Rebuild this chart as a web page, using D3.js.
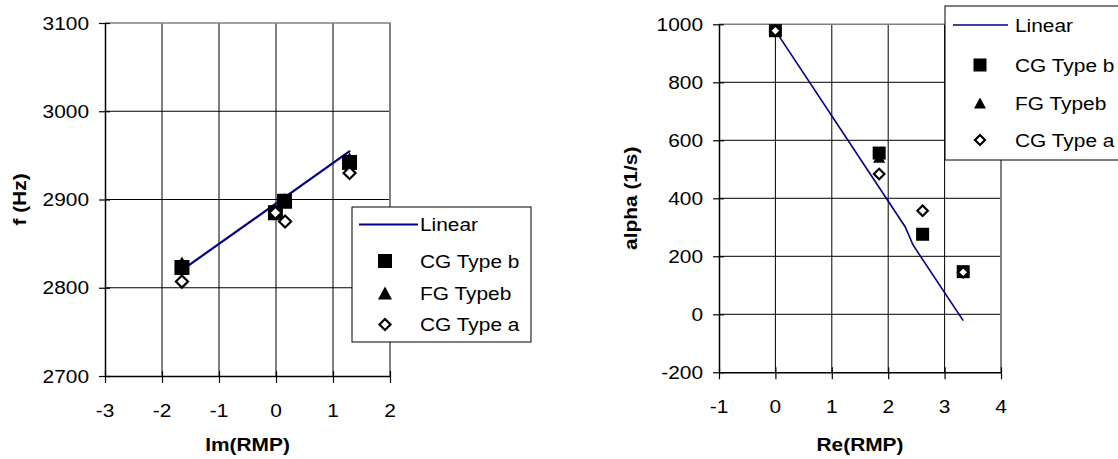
<!DOCTYPE html>
<html>
<head>
<meta charset="utf-8">
<script src="https://cdn.jsdelivr.net/npm/d3@7"></script>
<style>
  body { margin: 0; background: #fff; }
  svg { display: block; }
</style>
</head>
<body>
<svg id="chart" width="1118" height="459"></svg>
<script>
// ---- Left panel: frequency vs Im(RMP) ----
const imCGb = [-1.65, -0.01, 0.15, 1.29];
const fCGb  = [2823, 2885, 2898, 2942];
const imFGb = [-1.65, 0.15, 1.29];
const fFGb  = [2828, 2900, 2946];
const imCGa = [-1.65, -0.01, 0.16, 1.29];
const fCGa  = [2807, 2885, 2875, 2930];
const imLinear = [-1.65, 1.3];
const fLinear  = [2820, 2955];
const imTicks = [-3, -2, -1, 0, 1, 2];
const fTicks  = [2700, 2800, 2900, 3000, 3100];

// ---- Right panel: damping vs Re(RMP) ----
const reCGb = [0, 1.84, 2.61, 3.33];
const alphaCGb = [978, 556, 276, 147];
const reFGb = [0, 1.84, 2.61, 3.33];
const alphaFGb = [978, 542, 276, 147];
const reCGa = [0, 1.84, 2.61, 3.33];
const alphaCGa = [978, 484, 357, 145];
const reLinear = [0, 2.3, 2.44, 3.33];
const alphaLinear = [978, 302, 239, -22];
const reTicks = [-1, 0, 1, 2, 3, 4];
const alphaTicks = [-200, 0, 200, 400, 600, 800, 1000];

const legendLabels = ["Linear", "CG Type b", "FG Typeb", "CG Type a"];

const FONT = "'Liberation Sans', Arial, Helvetica, sans-serif";
const FS = 18.5;      // font size
const SX = 1.13;      // horizontal stretch of the lettering
const NAVY = "#000080";
const GRAY = "#808080";

const svg = d3.select("#chart");

function text(g, x, y, str, o = {}) {
  const rot = o.rotate ? ` rotate(${o.rotate})` : "";
  return g.append("text")
    .attr("transform", `translate(${x},${y})${rot} scale(${SX},1)`)
    .attr("text-anchor", o.anchor || "start")
    .attr("dominant-baseline", "central")
    .attr("font-family", FONT)
    .attr("font-size", o.size || FS)
    .attr("font-weight", o.bold ? "bold" : "normal")
    .attr("fill", "#000")
    .text(str);
}

// marker shapes centred on (cx,cy)
function marker(g, kind, cx, cy, s) {
  if (kind === "square") {
    g.append("rect").attr("x", cx - s / 2).attr("y", cy - s / 2)
      .attr("width", s).attr("height", s).attr("fill", "#000");
  } else if (kind === "triangle") {
    const h = s * 0.92;
    g.append("path")
      .attr("d", `M${cx},${cy - h / 2}L${cx + s / 2},${cy + h / 2}L${cx - s / 2},${cy + h / 2}Z`)
      .attr("fill", "#000");
  } else {
    const r = s / 2 - 1;
    g.append("path")
      .attr("d", `M${cx},${cy - r}L${cx + r},${cy}L${cx},${cy + r}L${cx - r},${cy}Z`)
      .attr("fill", "#fff").attr("stroke", "#000").attr("stroke-width", 2.2);
  }
}

function panel(cfg) {
  const g = svg.append("g");
  const x = d3.scaleLinear().domain(cfg.xDomain).range([cfg.left, cfg.right]);
  const y = d3.scaleLinear().domain(cfg.yDomain).range([cfg.bottom, cfg.top]);
  const xt = cfg.xTicks, yt = cfg.yTicks;

  // gridlines
  g.append("g").selectAll("line").data(xt.slice(1, -1)).join("line")
    .attr("x1", d => x(d)).attr("x2", d => x(d))
    .attr("y1", cfg.top).attr("y2", cfg.bottom)
    .attr("stroke", "#000").attr("stroke-width", 1);
  g.append("g").selectAll("line").data(yt.slice(1, -1)).join("line")
    .attr("x1", cfg.left).attr("x2", cfg.right)
    .attr("y1", d => y(d)).attr("y2", d => y(d))
    .attr("stroke", "#000").attr("stroke-width", 1);

  // plot-area frame (top and right)
  g.append("line").attr("x1", cfg.left).attr("x2", cfg.right + 1)
    .attr("y1", cfg.top).attr("y2", cfg.top)
    .attr("stroke", GRAY).attr("stroke-width", 1.5);
  g.append("line").attr("x1", cfg.right).attr("x2", cfg.right)
    .attr("y1", cfg.top).attr("y2", cfg.bottom)
    .attr("stroke", GRAY).attr("stroke-width", 2);

  // axes with crossing tick marks
  const ya = g.append("g").attr("transform", `translate(${cfg.left},0)`)
    .call(d3.axisLeft(y).tickValues(yt).tickSize(6).tickSizeOuter(0));
  ya.select(".domain").attr("stroke", "#000").attr("stroke-width", 1.5);
  ya.selectAll(".tick line").attr("x1", 5).attr("stroke", "#000").attr("stroke-width", 1.2);
  ya.selectAll(".tick text").remove();

  const xa = g.append("g").attr("transform", `translate(0,${cfg.bottom})`)
    .call(d3.axisBottom(x).tickValues(xt).tickSize(7).tickSizeOuter(0));
  xa.select(".domain").attr("stroke", "#000").attr("stroke-width", 1.5);
  xa.selectAll(".tick line").attr("y1", -5).attr("stroke", "#000").attr("stroke-width", 1.2);
  xa.selectAll(".tick text").remove();

  // tick labels
  yt.forEach(v => text(g, cfg.left - 16, y(v), String(v), { anchor: "end" }));
  xt.forEach(v => text(g, x(v), cfg.bottom + 34, String(v), { anchor: "middle" }));

  // axis titles
  text(g, (cfg.left + cfg.right) / 2, cfg.xTitleY, cfg.xTitle, { anchor: "middle", bold: true });
  text(g, cfg.yTitleX, (cfg.top + cfg.bottom) / 2, cfg.yTitle, { anchor: "middle", bold: true, rotate: -90 });

  // fitted line
  const line = d3.line().x(d => x(d[0])).y(d => y(d[1]));
  g.append("path").datum(d3.zip(cfg.lineX, cfg.lineY))
    .attr("d", line).attr("fill", "none")
    .attr("stroke", NAVY).attr("stroke-width", cfg.lineW);

  // measured points
  const mg = g.append("g");
  d3.zip(cfg.fgX, cfg.fgY).forEach(p => marker(mg, "triangle", x(p[0]), y(p[1]), cfg.triS));
  d3.zip(cfg.cgbX, cfg.cgbY).forEach(p => marker(mg, "square", x(p[0]), y(p[1]), cfg.sqS));
  d3.zip(cfg.cgaX, cfg.cgaY).forEach(p => marker(mg, "diamond", x(p[0]), y(p[1]), cfg.diaS));

  // legend
  const L = cfg.legend;
  const lg = g.append("g");
  lg.append("rect").attr("x", L.x).attr("y", L.y).attr("width", L.w).attr("height", L.h)
    .attr("fill", "#fff").attr("stroke", "#000").attr("stroke-width", 1);
  lg.append("line").attr("x1", L.lineX0).attr("x2", L.lineX1)
    .attr("y1", L.rows[0]).attr("y2", L.rows[0])
    .attr("stroke", NAVY).attr("stroke-width", cfg.lineW);
  marker(lg, "square", L.mx, L.rows[1], L.sqS);
  marker(lg, "triangle", L.mx, L.rows[2], L.triS);
  marker(lg, "diamond", L.mx, L.rows[3], L.diaS);
  legendLabels.forEach((s, i) => text(lg, L.tx, L.rows[i], s));
}

panel({
  left: 105, right: 390, top: 23, bottom: 376,
  xDomain: [-3, 2], yDomain: [2700, 3100],
  xTicks: imTicks, yTicks: fTicks,
  xTitle: "Im(RMP)", xTitleY: 444, yTitle: "f (Hz)", yTitleX: 19,
  lineX: imLinear, lineY: fLinear, lineW: 2.2,
  cgbX: imCGb, cgbY: fCGb, fgX: imFGb, fgY: fFGb, cgaX: imCGa, cgaY: fCGa,
  sqS: 15, triS: 14, diaS: 14,
  legend: { x: 352, y: 207, w: 179, h: 135, rows: [224.5, 261, 293, 324.5],
            lineX0: 359, lineX1: 418, mx: 385, tx: 420, sqS: 14, triS: 14, diaS: 13 }
});

panel({
  left: 719, right: 1001, top: 24.3, bottom: 372.3,
  xDomain: [-1, 4], yDomain: [-200, 1000],
  xTicks: reTicks, yTicks: alphaTicks,
  xTitle: "Re(RMP)", xTitleY: 444, yTitle: "alpha (1/s)", yTitleX: 630,
  lineX: reLinear, lineY: alphaLinear, lineW: 1.6,
  cgbX: reCGb, cgbY: alphaCGb, fgX: reFGb, fgY: alphaFGb, cgaX: reCGa, cgaY: alphaCGa,
  sqS: 13, triS: 12, diaS: 12.5,
  legend: { x: 945, y: 6, w: 185, h: 154, rows: [25, 65, 103, 140],
            lineX0: 953, lineX1: 1008, mx: 980, tx: 1015, sqS: 13, triS: 12, diaS: 12 }
});
</script>
</body>
</html>
